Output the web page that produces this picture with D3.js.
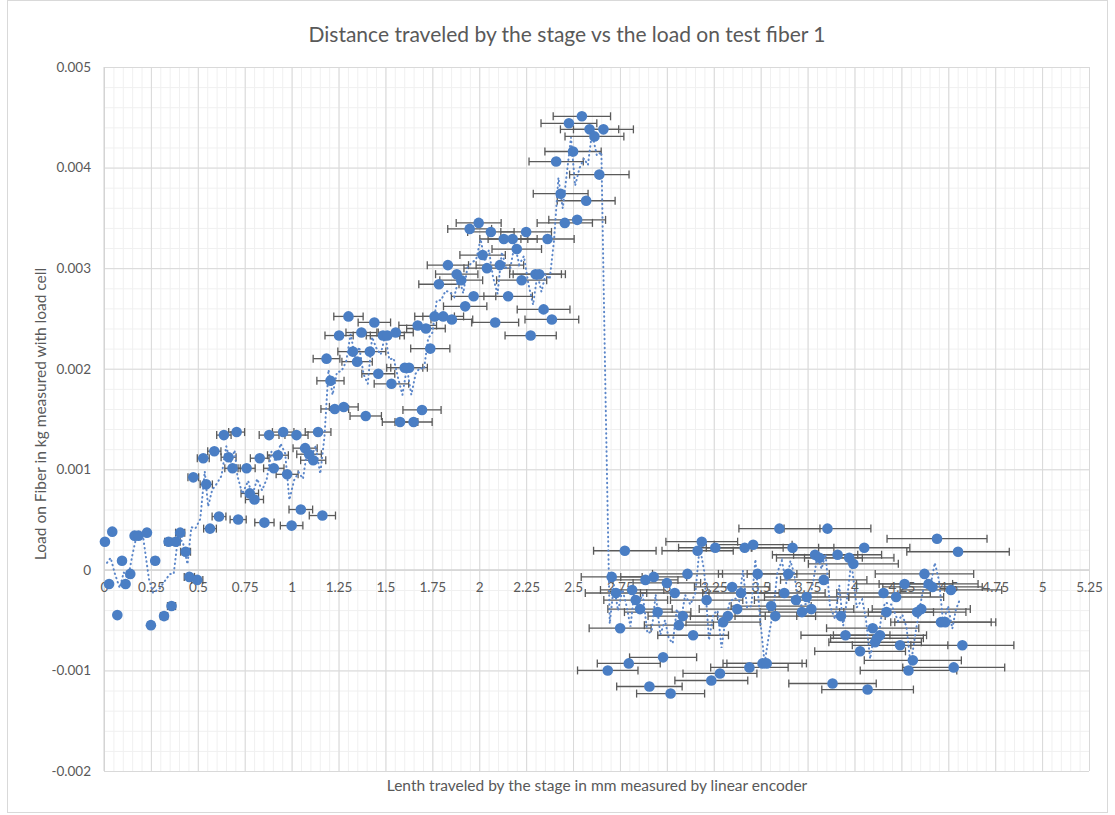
<!DOCTYPE html>
<html>
<head>
<meta charset="utf-8">
<script src="https://cdn.jsdelivr.net/npm/d3@7"></script>
<style>
  html, body { margin: 0; padding: 0; background: #fff; }
  svg { display: block; }
  text { font-family: Lato, "Open Sans", "Noto Sans", sans-serif; fill: #595959; }
</style>
</head>
<body>
<svg id="chart" width="1115" height="815"></svg>
<script>
// Stage travel (mm, linear encoder) and load (kg, load cell) readings, test fiber 1
const travelMm = [
  0.005, 0.027, 0.044, 0.071, 0.096, 0.115, 0.140, 0.163, 0.184, 0.229,
  0.250, 0.273, 0.320, 0.344, 0.360, 0.383, 0.406, 0.435, 0.455, 0.476,
  0.497, 0.529, 0.545, 0.565, 0.588, 0.613, 0.639, 0.664, 0.685, 0.707,
  0.715, 0.760, 0.777, 0.802, 0.830, 0.855, 0.880, 0.905, 0.927, 0.955,
  0.976, 1.000, 1.026, 1.049, 1.072, 1.093, 1.115, 1.141, 1.164, 1.186,
  1.207, 1.230, 1.253, 1.278, 1.303, 1.326, 1.349, 1.372, 1.395, 1.417,
  1.441, 1.462, 1.487, 1.510, 1.532, 1.555, 1.578, 1.603, 1.626, 1.650,
  1.672, 1.695, 1.716, 1.739, 1.762, 1.785, 1.808, 1.833, 1.854, 1.880,
  1.904, 1.925, 1.949, 1.970, 1.997, 2.018, 2.041, 2.062, 2.085, 2.110,
  2.131, 2.154, 2.178, 2.200, 2.226, 2.250, 2.274, 2.300, 2.320, 2.343,
  2.364, 2.387, 2.410, 2.434, 2.456, 2.478, 2.500, 2.522, 2.547, 2.570,
  2.588, 2.614, 2.640, 2.662, 2.685, 2.706, 2.729, 2.751, 2.776, 2.797,
  2.815, 2.834, 2.857, 2.886, 2.907, 2.930, 2.951, 2.980, 3.000, 3.020,
  3.042, 3.064, 3.085, 3.110, 3.140, 3.164, 3.186, 3.212, 3.237, 3.258,
  3.283, 3.300, 3.325, 3.348, 3.375, 3.395, 3.415, 3.440, 3.460, 3.484,
  3.510, 3.532, 3.556, 3.578, 3.600, 3.626, 3.647, 3.670, 3.688, 3.720,
  3.745, 3.770, 3.790, 3.813, 3.836, 3.856, 3.883, 3.910, 3.928, 3.952,
  3.972, 3.994, 4.030, 4.052, 4.070, 4.097, 4.110, 4.120, 4.136, 4.155,
  4.171, 4.222, 4.243, 4.267, 4.288, 4.311, 4.334, 4.356, 4.373, 4.395,
  4.416, 4.440, 4.461, 4.484, 4.514, 4.529, 4.552, 4.575
];
const loadKg = [
  0.00028, -0.00014, 0.00038, -0.00045, 0.00009, -0.00014, -0.00004, 0.00034, 0.00034, 0.00037,
  -0.00055, 0.00009, -0.00046, 0.00028, -0.00036, 0.00028, 0.00037, 0.00018, -0.00007, 0.00092,
  -0.00010, 0.00111, 0.00085, 0.00041, 0.00118, 0.00053, 0.00134, 0.00112, 0.00101, 0.00137,
  0.00050, 0.00101, 0.00076, 0.00070, 0.00111, 0.00047, 0.00134, 0.00101, 0.00114, 0.00137,
  0.00095, 0.00044, 0.00134, 0.00060, 0.00121, 0.00115, 0.00109, 0.00137, 0.00054, 0.00210,
  0.00188, 0.00160, 0.00233, 0.00162, 0.00252, 0.00217, 0.00207, 0.00236, 0.00153, 0.00217,
  0.00246, 0.00195, 0.00233, 0.00233, 0.00185, 0.00236, 0.00147, 0.00201, 0.00201, 0.00147,
  0.00243, 0.00159, 0.00240, 0.00220, 0.00252, 0.00284, 0.00252, 0.00303, 0.00249, 0.00294,
  0.00288, 0.00262, 0.00339, 0.00272, 0.00345, 0.00313, 0.00300, 0.00336, 0.00246, 0.00303,
  0.00329, 0.00272, 0.00329, 0.00319, 0.00288, 0.00336, 0.00233, 0.00294, 0.00294, 0.00259,
  0.00329, 0.00249, 0.00406, 0.00374, 0.00345, 0.00444, 0.00416, 0.00348, 0.00451, 0.00367,
  0.00438, 0.00431, 0.00393, 0.00438, -0.00100, -0.00007, -0.00023, -0.00058, 0.00019, -0.00093,
  -0.00020, -0.00030, -0.00039, -0.00010, -0.00116, -0.00007, -0.00042, -0.00087, -0.00013, -0.00123,
  -0.00023, -0.00055, -0.00046, -0.00004, -0.00065, 0.00019, 0.00028, -0.00030, -0.00110, 0.00022,
  -0.00103, -0.00052, -0.00046, -0.00017, -0.00039, -0.00023, 0.00022, -0.00097, 0.00025, -0.00004,
  -0.00093, -0.00093, -0.00036, -0.00046, 0.00041, -0.00023, -0.00004, 0.00022, -0.00030, -0.00042,
  -0.00027, -0.00039, 0.00015, 0.00012, -0.00010, 0.00041, -0.00113, 0.00015, -0.00046, -0.00065,
  0.00012, 0.00006, -0.00081, 0.00022, -0.00119, -0.00058, -0.00072, -0.00068, -0.00065, -0.00023,
  -0.00042, -0.00027, -0.00075, -0.00014, -0.00100, -0.00090, -0.00042, -0.00039, -0.00004, -0.00014,
  -0.00017, 0.00031, -0.00052, -0.00052, -0.00020, -0.00097, 0.00018, -0.00075
];
// Horizontal error bars: percentage of the travel value
const travelErrorPct = 0.06;
// Moving-average trendline period
const trendPeriod = 2;

const xTicks = [0, 0.25, 0.5, 0.75, 1, 1.25, 1.5, 1.75, 2, 2.25, 2.5, 2.75, 3, 3.25, 3.5, 3.75, 4, 4.25, 4.5, 4.75, 5, 5.25];
const yTicks = [-0.002, -0.001, 0, 0.001, 0.002, 0.003, 0.004, 0.005];
const xMinorStep = 0.05;
const yMinorStep = 0.0002;

const titleText = "Distance traveled by the stage vs the load on test fiber 1";
const xTitleText = "Lenth traveled by the stage in mm measured by linear encoder";
const yTitleText = "Load on Fiber in kg measured with load cell";

const svg = d3.select("#chart");
const plot = { left: 104, right: 1089, top: 67, bottom: 771 };

const x = d3.scaleLinear().domain([0, 5.25]).range([plot.left, plot.right]);
const y = d3.scaleLinear().domain([-0.002, 0.005]).range([plot.bottom, plot.top]);

const points = travelMm.map((v, i) => ({ x: v, y: loadKg[i] }));

// chart area frame
svg.append("rect")
  .attr("x", 7.5).attr("y", 0.5)
  .attr("width", 1100).attr("height", 812)
  .attr("fill", "#fff").attr("stroke", "#d9d9d9");

// minor gridlines
const xMinor = d3.range(0, 5.25 + 1e-9, xMinorStep);
const yMinor = d3.range(-0.002, 0.005 + 1e-9, yMinorStep);
const grid = svg.append("g");
grid.append("g")
  .attr("transform", `translate(0,${plot.bottom})`)
  .call(d3.axisBottom(x).tickValues(xMinor).tickSize(-(plot.bottom - plot.top)).tickFormat(""))
  .call(g => g.select(".domain").remove())
  .call(g => g.selectAll("line").attr("stroke", "#f0f0f0"));
grid.append("g")
  .attr("transform", `translate(${plot.left},0)`)
  .call(d3.axisLeft(y).tickValues(yMinor).tickSize(-(plot.right - plot.left)).tickFormat(""))
  .call(g => g.select(".domain").remove())
  .call(g => g.selectAll("line").attr("stroke", "#f0f0f0"));
// major gridlines
grid.append("g")
  .attr("transform", `translate(0,${plot.bottom})`)
  .call(d3.axisBottom(x).tickValues(xTicks).tickSize(-(plot.bottom - plot.top)).tickFormat(""))
  .call(g => g.select(".domain").remove())
  .call(g => g.selectAll("line").attr("stroke", "#d9d9d9"));
grid.append("g")
  .attr("transform", `translate(${plot.left},0)`)
  .call(d3.axisLeft(y).tickValues(yTicks).tickSize(-(plot.right - plot.left)).tickFormat(""))
  .call(g => g.select(".domain").remove())
  .call(g => g.selectAll("line").attr("stroke", "#d9d9d9"));

// axis lines
svg.append("line")
  .attr("x1", plot.left).attr("x2", plot.right)
  .attr("y1", y(0)).attr("y2", y(0))
  .attr("stroke", "#d0d0d0");
svg.append("line")
  .attr("x1", plot.left).attr("x2", plot.left)
  .attr("y1", plot.top).attr("y2", plot.bottom)
  .attr("stroke", "#d0d0d0");

// tick labels (x labels sit on the zero line)
const fmtY = d => d === 0 ? "0" : d.toFixed(3);
svg.append("g")
  .attr("transform", `translate(${plot.left},0)`)
  .call(d3.axisLeft(y).tickValues(yTicks).tickSize(0).tickPadding(13).tickFormat(fmtY))
  .call(g => g.select(".domain").remove())
  .call(g => g.selectAll("text").attr("font-size", 13.5).attr("fill", "#595959")
    .attr("font-family", "Lato, 'Open Sans', sans-serif"));
svg.append("g")
  .attr("transform", `translate(0,${y(0)})`)
  .call(d3.axisBottom(x).tickValues(xTicks).tickSize(0).tickPadding(13).tickFormat(d => String(d)))
  .call(g => g.select(".domain").remove())
  .call(g => g.selectAll("text").attr("font-size", 13.5).attr("fill", "#595959")
    .attr("font-family", "Lato, 'Open Sans', sans-serif"));

// error bars
const errG = svg.append("g")
  .attr("stroke", "#5a5a5a").attr("stroke-width", 1.3).attr("fill", "none");
points.forEach(p => {
  const e = p.x * travelErrorPct;
  const x0 = x(p.x - e), x1 = x(p.x + e), yy = y(p.y);
  errG.append("line").attr("x1", x0).attr("x2", x1).attr("y1", yy).attr("y2", yy);
  errG.append("line").attr("x1", x0).attr("x2", x0).attr("y1", yy - 4).attr("y2", yy + 4);
  errG.append("line").attr("x1", x1).attr("x2", x1).attr("y1", yy - 4).attr("y2", yy + 4);
});

// moving-average trendline, computed in order of travel
const sorted = points.slice().sort((a, b) => a.x - b.x);
const trend = [];
for (let i = trendPeriod - 1; i < sorted.length; i++) {
  const win = sorted.slice(i - trendPeriod + 1, i + 1);
  trend.push({ x: d3.mean(win, d => d.x), y: d3.mean(win, d => d.y) });
}
svg.append("path")
  .datum(trend)
  .attr("fill", "none")
  .attr("stroke", "#5b86c9")
  .attr("stroke-width", 2)
  .attr("stroke-linecap", "round")
  .attr("stroke-dasharray", "0.5 4")
  .attr("d", d3.line().x(d => x(d.x)).y(d => y(d.y)));

// markers
svg.append("g")
  .selectAll("circle")
  .data(points)
  .join("circle")
  .attr("cx", d => x(d.x))
  .attr("cy", d => y(d.y))
  .attr("r", 5.3)
  .attr("fill", "#4a7ec4");

// titles
svg.append("text")
  .attr("x", 567).attr("y", 42)
  .attr("text-anchor", "middle")
  .attr("font-size", 21)
  .text(titleText);
svg.append("text")
  .attr("x", 597).attr("y", 791)
  .attr("text-anchor", "middle")
  .attr("font-size", 15.5)
  .text(xTitleText);
svg.append("text")
  .attr("transform", `translate(46,414) rotate(-90)`)
  .attr("text-anchor", "middle")
  .attr("font-size", 15.5)
  .text(yTitleText);
</script>
</body>
</html>
